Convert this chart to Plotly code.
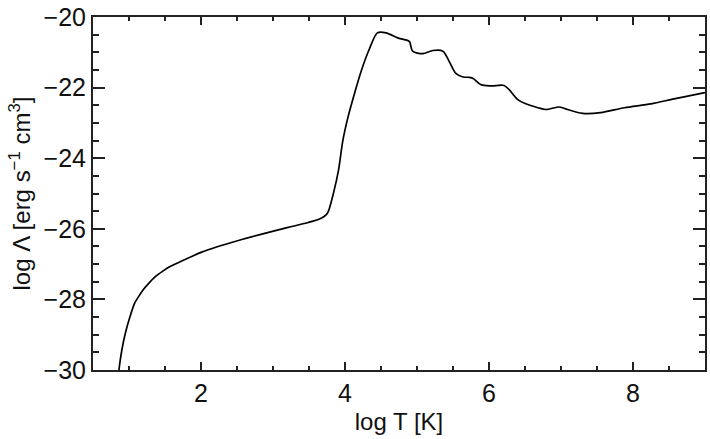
import plotly.graph_objects as go

log_T = [0.83, 0.86, 0.90, 0.95, 1.02, 1.08, 1.14, 1.20, 1.28, 1.37, 1.47, 1.57, 1.78, 2.01, 2.52,
         3.21, 3.49, 3.67, 3.74, 3.77, 3.84, 3.91, 3.97, 4.04, 4.14, 4.23, 4.34, 4.45, 4.57,
         4.74, 4.88, 4.90, 4.94, 5.08, 5.22, 5.36, 5.45, 5.54, 5.64, 5.73, 5.78, 5.89, 6.03,
         6.21, 6.28, 6.40, 6.51, 6.68, 6.79, 6.98, 7.09, 7.30, 7.55, 7.88, 8.25, 8.57, 8.98, 9.05]
log_Lambda = [-30.6, -30.0, -29.44, -28.95, -28.45, -28.1, -27.9, -27.72, -27.53, -27.35,
              -27.2, -27.07, -26.87, -26.66, -26.33, -25.96, -25.82, -25.70, -25.60, -25.50,
              -24.99, -24.34, -23.5, -22.85, -22.11, -21.5, -20.9, -20.45, -20.45, -20.6,
              -20.67, -20.71, -20.97, -21.04, -20.95, -20.97, -21.27, -21.6, -21.70, -21.71,
              -21.74, -21.92, -21.95, -21.94, -22.06, -22.34, -22.46, -22.57, -22.62, -22.55,
              -22.62, -22.73, -22.71, -22.57, -22.46, -22.32, -22.15, -22.12]

x_ticks = [2, 4, 6, 8]
y_ticks = [-30, -28, -26, -24, -22, -20]
y_ticktext = ["\u221230", "\u221228", "\u221226", "\u221224", "\u221222", "\u221220"]

FONT = "Liberation Sans, Arial, sans-serif"
AX = "#222222"

fig = go.Figure()
fig.add_trace(go.Scatter(x=log_T, y=log_Lambda, mode="lines",
                         line=dict(color="black", width=1.7, shape="spline", smoothing=0.8),
                         showlegend=False, hoverinfo="skip"))

fig.update_layout(
    width=710, height=439,
    margin=dict(l=93, r=3, t=11, b=69),
    paper_bgcolor="white", plot_bgcolor="white",
    font=dict(family=FONT, size=25, color="#111111"),
)
fig.update_xaxes(
    range=[0.5, 9], tickvals=x_ticks, ticks="inside", ticklen=8, tickwidth=1.5,
    tickcolor=AX, showline=True, linecolor=AX, linewidth=2, mirror="allticks",
    showgrid=False, zeroline=False, tickfont=dict(size=25), ticklabeloverflow="allow",
    minor=dict(ticks="inside", dtick=0.5, ticklen=4, tickwidth=1.5, tickcolor=AX, showgrid=False),
    title=dict(text="log T [K]", font=dict(size=24), standoff=7),
)
fig.update_yaxes(
    range=[-30, -20], tickvals=y_ticks, ticktext=y_ticktext, ticks="inside", ticklen=12,
    tickwidth=1.5, tickcolor=AX, showline=True, linecolor=AX, linewidth=2, mirror="allticks",
    showgrid=False, zeroline=False, tickfont=dict(size=25), ticklabeloverflow="allow",
    minor=dict(ticks="inside", dtick=0.5, ticklen=6, tickwidth=1.5, tickcolor=AX, showgrid=False),
    title=dict(text="log \u039b [erg s<sup>\u22121</sup> cm<sup>3</sup>]", font=dict(size=24), standoff=6),
)

fig.write_html("out.html")
